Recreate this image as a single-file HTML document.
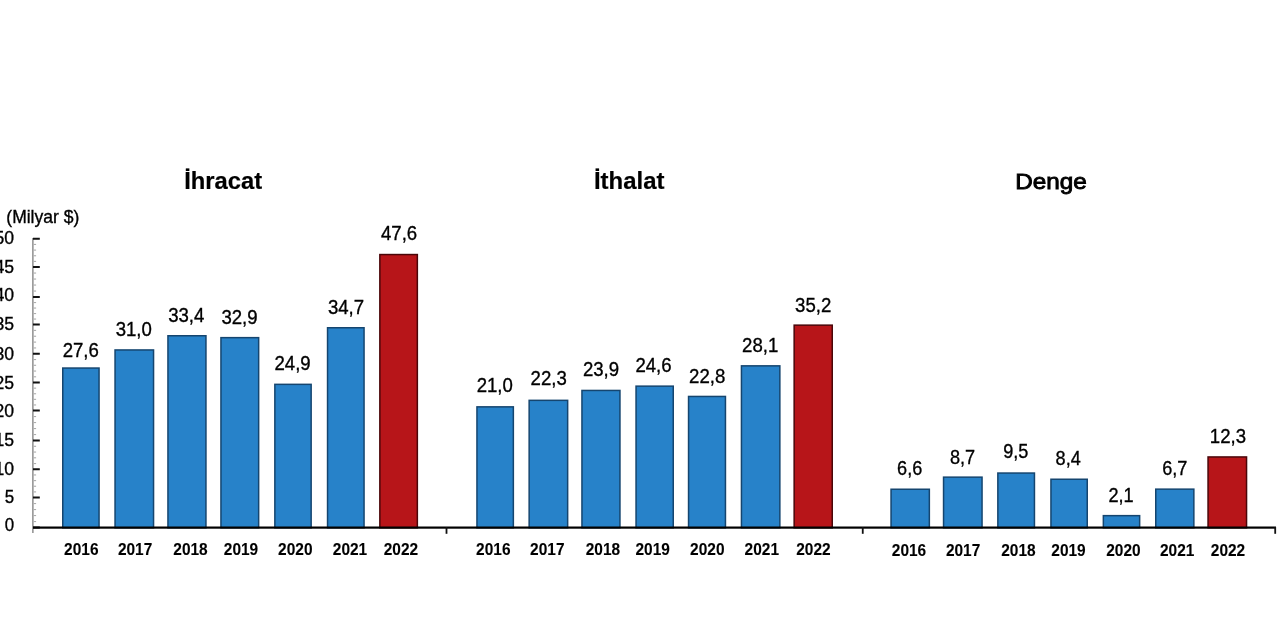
<!DOCTYPE html>
<html lang="tr"><head><meta charset="utf-8"><title>Dış Ticaret</title>
<style>
html,body{margin:0;padding:0;background:#fff;}
body{width:1280px;height:640px;overflow:hidden;}
svg{display:block;font-family:"Liberation Sans",Arial,sans-serif;fill:#000;}
text{stroke:#000;stroke-width:.35px;}
.t{font-weight:bold;font-size:23.5px;text-anchor:middle;stroke-width:.2px;}
.t3{font-weight:normal;font-size:22px;stroke-width:.9px;}
.v{font-size:20.5px;text-anchor:middle;}
.y{font-size:17px;font-weight:bold;text-anchor:middle;stroke-width:.1px;}
.a{font-size:19px;text-anchor:end;}
.u{font-size:18.5px;}
</style></head><body>
<svg width="1280" height="640" viewBox="0 0 1280 640">
<rect width="1280" height="640" fill="#fff"/>
<rect x="32" y="238" width="1.7" height="295" fill="#9c9c9c"/>
<rect x="33" y="526.50" width="6.8" height="2" fill="#111"/>
<rect x="33.5" y="521.00" width="2.6" height="1.1" fill="#adadad"/>
<rect x="33.5" y="515.00" width="2.6" height="1.1" fill="#adadad"/>
<rect x="33.5" y="509.00" width="2.6" height="1.1" fill="#adadad"/>
<rect x="33.5" y="503.00" width="2.6" height="1.1" fill="#adadad"/>
<rect x="33" y="496.50" width="6.8" height="2" fill="#111"/>
<rect x="33.5" y="491.35" width="2.6" height="1.1" fill="#adadad"/>
<rect x="33.5" y="485.70" width="2.6" height="1.1" fill="#adadad"/>
<rect x="33.5" y="480.05" width="2.6" height="1.1" fill="#adadad"/>
<rect x="33.5" y="474.40" width="2.6" height="1.1" fill="#adadad"/>
<rect x="33" y="468.25" width="6.8" height="2" fill="#111"/>
<rect x="33.5" y="463.00" width="2.6" height="1.1" fill="#adadad"/>
<rect x="33.5" y="457.25" width="2.6" height="1.1" fill="#adadad"/>
<rect x="33.5" y="451.50" width="2.6" height="1.1" fill="#adadad"/>
<rect x="33.5" y="445.75" width="2.6" height="1.1" fill="#adadad"/>
<rect x="33" y="439.50" width="6.8" height="2" fill="#111"/>
<rect x="33.5" y="434.00" width="2.6" height="1.1" fill="#adadad"/>
<rect x="33.5" y="428.00" width="2.6" height="1.1" fill="#adadad"/>
<rect x="33.5" y="422.00" width="2.6" height="1.1" fill="#adadad"/>
<rect x="33.5" y="416.00" width="2.6" height="1.1" fill="#adadad"/>
<rect x="33" y="409.50" width="6.8" height="2" fill="#111"/>
<rect x="33.5" y="404.40" width="2.6" height="1.1" fill="#adadad"/>
<rect x="33.5" y="398.80" width="2.6" height="1.1" fill="#adadad"/>
<rect x="33.5" y="393.20" width="2.6" height="1.1" fill="#adadad"/>
<rect x="33.5" y="387.60" width="2.6" height="1.1" fill="#adadad"/>
<rect x="33" y="381.50" width="6.8" height="2" fill="#111"/>
<rect x="33.5" y="376.25" width="2.6" height="1.1" fill="#adadad"/>
<rect x="33.5" y="370.50" width="2.6" height="1.1" fill="#adadad"/>
<rect x="33.5" y="364.75" width="2.6" height="1.1" fill="#adadad"/>
<rect x="33.5" y="359.00" width="2.6" height="1.1" fill="#adadad"/>
<rect x="33" y="352.75" width="6.8" height="2" fill="#111"/>
<rect x="33.5" y="347.40" width="2.6" height="1.1" fill="#adadad"/>
<rect x="33.5" y="341.55" width="2.6" height="1.1" fill="#adadad"/>
<rect x="33.5" y="335.70" width="2.6" height="1.1" fill="#adadad"/>
<rect x="33.5" y="329.85" width="2.6" height="1.1" fill="#adadad"/>
<rect x="33" y="323.50" width="6.8" height="2" fill="#111"/>
<rect x="33.5" y="318.50" width="2.6" height="1.1" fill="#adadad"/>
<rect x="33.5" y="313.00" width="2.6" height="1.1" fill="#adadad"/>
<rect x="33.5" y="307.50" width="2.6" height="1.1" fill="#adadad"/>
<rect x="33.5" y="302.00" width="2.6" height="1.1" fill="#adadad"/>
<rect x="33" y="296.00" width="6.8" height="2" fill="#111"/>
<rect x="33.5" y="290.50" width="2.6" height="1.1" fill="#adadad"/>
<rect x="33.5" y="284.50" width="2.6" height="1.1" fill="#adadad"/>
<rect x="33.5" y="278.50" width="2.6" height="1.1" fill="#adadad"/>
<rect x="33.5" y="272.50" width="2.6" height="1.1" fill="#adadad"/>
<rect x="33" y="266.00" width="6.8" height="2" fill="#111"/>
<rect x="33.5" y="260.85" width="2.6" height="1.1" fill="#adadad"/>
<rect x="33.5" y="255.20" width="2.6" height="1.1" fill="#adadad"/>
<rect x="33.5" y="249.55" width="2.6" height="1.1" fill="#adadad"/>
<rect x="33.5" y="243.90" width="2.6" height="1.1" fill="#adadad"/>
<rect x="33" y="237.75" width="6.8" height="2" fill="#111"/>
<text class="a" x="14.1" y="531.3" textLength="9.4" lengthAdjust="spacingAndGlyphs">0</text>
<text class="a" x="14.1" y="502.5" textLength="9.4" lengthAdjust="spacingAndGlyphs">5</text>
<text class="a" x="14.1" y="475" textLength="19.6" lengthAdjust="spacingAndGlyphs">10</text>
<text class="a" x="14.1" y="445.6" textLength="19.6" lengthAdjust="spacingAndGlyphs">15</text>
<text class="a" x="14.1" y="417.2" textLength="19.6" lengthAdjust="spacingAndGlyphs">20</text>
<text class="a" x="14.1" y="388.5" textLength="19.6" lengthAdjust="spacingAndGlyphs">25</text>
<text class="a" x="14.1" y="359.6" textLength="19.6" lengthAdjust="spacingAndGlyphs">30</text>
<text class="a" x="14.1" y="329.6" textLength="19.6" lengthAdjust="spacingAndGlyphs">35</text>
<text class="a" x="14.1" y="301.3" textLength="19.6" lengthAdjust="spacingAndGlyphs">40</text>
<text class="a" x="14.1" y="272.5" textLength="19.6" lengthAdjust="spacingAndGlyphs">45</text>
<text class="a" x="14.1" y="243.6" textLength="19.6" lengthAdjust="spacingAndGlyphs">50</text>
<text class="u" x="6.3" y="223.4" textLength="73" lengthAdjust="spacingAndGlyphs">(Milyar $)</text>
<text class="t" x="223.2" y="189" textLength="78" lengthAdjust="spacingAndGlyphs">İhracat</text>
<rect x="62.75" y="368.05" width="36.30" height="159.70" fill="#2782c9" stroke="#15456f" stroke-width="1.5"/>
<text class="v" x="80.8" y="356.6" textLength="36.2" lengthAdjust="spacingAndGlyphs">27,6</text>
<text class="y" x="81.3" y="554.7" textLength="34.4" lengthAdjust="spacingAndGlyphs">2016</text>
<rect x="115.05" y="349.95" width="38.50" height="177.80" fill="#2782c9" stroke="#15456f" stroke-width="1.5"/>
<text class="v" x="133.8" y="335.5" textLength="36.2" lengthAdjust="spacingAndGlyphs">31,0</text>
<text class="y" x="135.1" y="554.7" textLength="34.4" lengthAdjust="spacingAndGlyphs">2017</text>
<rect x="167.95" y="335.75" width="38.00" height="192.00" fill="#2782c9" stroke="#15456f" stroke-width="1.5"/>
<text class="v" x="186.3" y="321.8" textLength="36.2" lengthAdjust="spacingAndGlyphs">33,4</text>
<text class="y" x="190.5" y="554.7" textLength="34.4" lengthAdjust="spacingAndGlyphs">2018</text>
<rect x="220.95" y="337.65" width="37.70" height="190.10" fill="#2782c9" stroke="#15456f" stroke-width="1.5"/>
<text class="v" x="239.5" y="324.4" textLength="36.2" lengthAdjust="spacingAndGlyphs">32,9</text>
<text class="y" x="241.0" y="554.7" textLength="34.4" lengthAdjust="spacingAndGlyphs">2019</text>
<rect x="274.85" y="384.35" width="36.30" height="143.40" fill="#2782c9" stroke="#15456f" stroke-width="1.5"/>
<text class="v" x="292.6" y="370.4" textLength="36.2" lengthAdjust="spacingAndGlyphs">24,9</text>
<text class="y" x="295.3" y="554.7" textLength="34.4" lengthAdjust="spacingAndGlyphs">2020</text>
<rect x="327.55" y="327.75" width="36.50" height="200.00" fill="#2782c9" stroke="#15456f" stroke-width="1.5"/>
<text class="v" x="346.0" y="313.7" textLength="36.2" lengthAdjust="spacingAndGlyphs">34,7</text>
<text class="y" x="350.0" y="554.7" textLength="34.4" lengthAdjust="spacingAndGlyphs">2021</text>
<rect x="379.85" y="254.55" width="37.50" height="273.20" fill="#b71519" stroke="#4a0609" stroke-width="1.5"/>
<text class="v" x="399.1" y="239.7" textLength="36.2" lengthAdjust="spacingAndGlyphs">47,6</text>
<text class="y" x="400.9" y="554.7" textLength="34.4" lengthAdjust="spacingAndGlyphs">2022</text>
<text class="t" x="629.2" y="189" textLength="70.5" lengthAdjust="spacingAndGlyphs">İthalat</text>
<rect x="476.95" y="406.85" width="36.40" height="120.90" fill="#2782c9" stroke="#15456f" stroke-width="1.5"/>
<text class="v" x="494.8" y="392.4" textLength="36.2" lengthAdjust="spacingAndGlyphs">21,0</text>
<text class="y" x="493.3" y="554.7" textLength="34.4" lengthAdjust="spacingAndGlyphs">2016</text>
<rect x="529.15" y="400.35" width="38.50" height="127.40" fill="#2782c9" stroke="#15456f" stroke-width="1.5"/>
<text class="v" x="548.7" y="385.0" textLength="36.2" lengthAdjust="spacingAndGlyphs">22,3</text>
<text class="y" x="547.3" y="554.7" textLength="34.4" lengthAdjust="spacingAndGlyphs">2017</text>
<rect x="581.95" y="390.45" width="38.00" height="137.30" fill="#2782c9" stroke="#15456f" stroke-width="1.5"/>
<text class="v" x="601.0" y="376.1" textLength="36.2" lengthAdjust="spacingAndGlyphs">23,9</text>
<text class="y" x="602.9" y="554.7" textLength="34.4" lengthAdjust="spacingAndGlyphs">2018</text>
<rect x="636.05" y="386.15" width="37.20" height="141.60" fill="#2782c9" stroke="#15456f" stroke-width="1.5"/>
<text class="v" x="653.5" y="372.3" textLength="36.2" lengthAdjust="spacingAndGlyphs">24,6</text>
<text class="y" x="652.7" y="554.7" textLength="34.4" lengthAdjust="spacingAndGlyphs">2019</text>
<rect x="688.55" y="396.45" width="36.90" height="131.30" fill="#2782c9" stroke="#15456f" stroke-width="1.5"/>
<text class="v" x="707.2" y="382.5" textLength="36.2" lengthAdjust="spacingAndGlyphs">22,8</text>
<text class="y" x="707.3" y="554.7" textLength="34.4" lengthAdjust="spacingAndGlyphs">2020</text>
<rect x="741.45" y="365.85" width="38.40" height="161.90" fill="#2782c9" stroke="#15456f" stroke-width="1.5"/>
<text class="v" x="760.2" y="352.3" textLength="36.2" lengthAdjust="spacingAndGlyphs">28,1</text>
<text class="y" x="761.8" y="554.7" textLength="34.4" lengthAdjust="spacingAndGlyphs">2021</text>
<rect x="794.15" y="325.15" width="38.10" height="202.60" fill="#b71519" stroke="#4a0609" stroke-width="1.5"/>
<text class="v" x="813.2" y="311.8" textLength="36.2" lengthAdjust="spacingAndGlyphs">35,2</text>
<text class="y" x="813.4" y="554.7" textLength="34.4" lengthAdjust="spacingAndGlyphs">2022</text>
<text class="t t3" x="1051.1" y="189" textLength="71.5" lengthAdjust="spacingAndGlyphs">Denge</text>
<rect x="891.05" y="489.25" width="38.30" height="38.50" fill="#2782c9" stroke="#15456f" stroke-width="1.5"/>
<text class="v" x="909.7" y="475.3" textLength="25.2" lengthAdjust="spacingAndGlyphs">6,6</text>
<text class="y" x="909.0" y="556.3" textLength="34.4" lengthAdjust="spacingAndGlyphs">2016</text>
<rect x="943.55" y="477.15" width="38.50" height="50.60" fill="#2782c9" stroke="#15456f" stroke-width="1.5"/>
<text class="v" x="962.5" y="463.8" textLength="25.2" lengthAdjust="spacingAndGlyphs">8,7</text>
<text class="y" x="963.1" y="556.3" textLength="34.4" lengthAdjust="spacingAndGlyphs">2017</text>
<rect x="997.85" y="473.05" width="36.60" height="54.70" fill="#2782c9" stroke="#15456f" stroke-width="1.5"/>
<text class="v" x="1015.8" y="458.2" textLength="25.2" lengthAdjust="spacingAndGlyphs">9,5</text>
<text class="y" x="1018.4" y="556.3" textLength="34.4" lengthAdjust="spacingAndGlyphs">2018</text>
<rect x="1050.95" y="479.25" width="36.30" height="48.50" fill="#2782c9" stroke="#15456f" stroke-width="1.5"/>
<text class="v" x="1068.2" y="465.0" textLength="25.2" lengthAdjust="spacingAndGlyphs">8,4</text>
<text class="y" x="1068.5" y="556.3" textLength="34.4" lengthAdjust="spacingAndGlyphs">2019</text>
<rect x="1103.35" y="515.65" width="36.30" height="12.10" fill="#2782c9" stroke="#15456f" stroke-width="1.5"/>
<text class="v" x="1121.0" y="502.2" textLength="25.2" lengthAdjust="spacingAndGlyphs">2,1</text>
<text class="y" x="1123.4" y="556.3" textLength="34.4" lengthAdjust="spacingAndGlyphs">2020</text>
<rect x="1155.75" y="489.15" width="38.10" height="38.60" fill="#2782c9" stroke="#15456f" stroke-width="1.5"/>
<text class="v" x="1174.8" y="475.3" textLength="25.2" lengthAdjust="spacingAndGlyphs">6,7</text>
<text class="y" x="1177.2" y="556.3" textLength="34.4" lengthAdjust="spacingAndGlyphs">2021</text>
<rect x="1208.05" y="456.95" width="38.50" height="70.80" fill="#b71519" stroke="#4a0609" stroke-width="1.5"/>
<text class="v" x="1227.9" y="442.8" textLength="36.2" lengthAdjust="spacingAndGlyphs">12,3</text>
<text class="y" x="1228.0" y="556.3" textLength="34.4" lengthAdjust="spacingAndGlyphs">2022</text>
<rect x="33" y="526.5" width="1243" height="2.2" fill="#000"/>
<rect x="445.60" y="527" width="1.8" height="6.8" fill="#111"/>
<rect x="861.85" y="527" width="1.8" height="6.8" fill="#111"/>
<rect x="1274.30" y="527" width="1.8" height="6.8" fill="#111"/>
</svg></body></html>
